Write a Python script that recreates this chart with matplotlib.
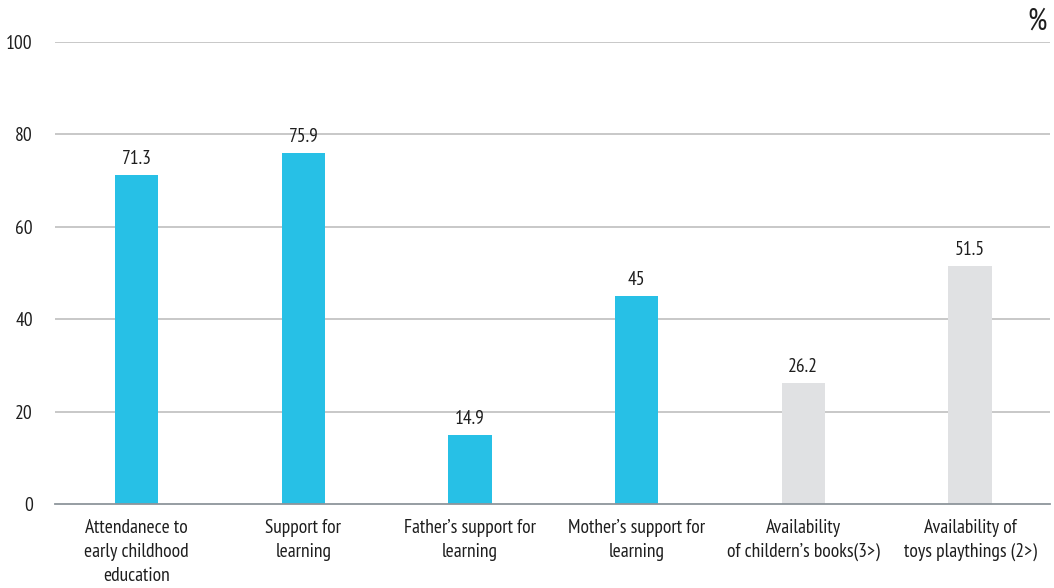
import matplotlib
matplotlib.use("Agg")
import matplotlib.pyplot as plt

# condensed humanist face first, plain sans as a safety net
plt.rcParams["font.family"] = ["PT Sans Narrow", "Roboto Condensed", "DejaVu Sans"]

categories = [
    "Attendanece to\nearly childhood\neducation",
    "Support for\nlearning",
    "Father\u2019s support for\nlearning",
    "Mother\u2019s support for\nlearning",
    "Availability\nof childern\u2019s books(3>)",
    "Availability of\ntoys playthings (2>)",
]
values = [71.3, 75.9, 14.9, 45, 26.2, 51.5]
value_labels = ["71.3", "75.9", "14.9", "45", "26.2", "51.5"]
highlight = [True, True, True, True, False, False]
yticks = [0, 20, 40, 60, 80, 100]

CYAN = "#27C0E6"
GREY = "#E0E1E3"
TEXT = "#1E1E1E"

fig = plt.figure(figsize=(10.54, 5.88), dpi=100)
ax = fig.add_axes([0.0522, 0.1429, 0.944, 0.7857])

x = list(range(len(values)))
colors = [CYAN if h else GREY for h in highlight]
ax.bar(x, values, width=0.26, color=colors, zorder=2)

for xi, v, lab in zip(x, values, value_labels):
    ax.annotate(lab, (xi, v), xytext=(0, 5), textcoords="offset points",
                ha="center", va="bottom", fontsize=14, color=TEXT)

ax.set_xlim(-0.49, 5.48)
ax.set_ylim(0, 100)
ax.set_yticks(yticks)
ax.set_yticklabels([str(t) for t in yticks], fontsize=14, color=TEXT)
ax.set_xticks(x)
ax.set_xticklabels(categories, fontsize=14, color=TEXT, linespacing=1.42)
ax.tick_params(axis="y", length=0, pad=16)
ax.tick_params(axis="x", length=0, pad=11)

for t in yticks[1:]:
    ax.axhline(t, color="#C4C4C4", linewidth=1.3, zorder=1)
for side in ["top", "right", "left"]:
    ax.spines[side].set_visible(False)
ax.spines["bottom"].set_color("#8E959B")
ax.spines["bottom"].set_linewidth(1.3)
ax.spines["bottom"].set_zorder(3)

fig.text(0.993, 0.963, "%", ha="right", va="center", fontsize=22, color=TEXT)

fig.savefig("out.png", dpi=100)
